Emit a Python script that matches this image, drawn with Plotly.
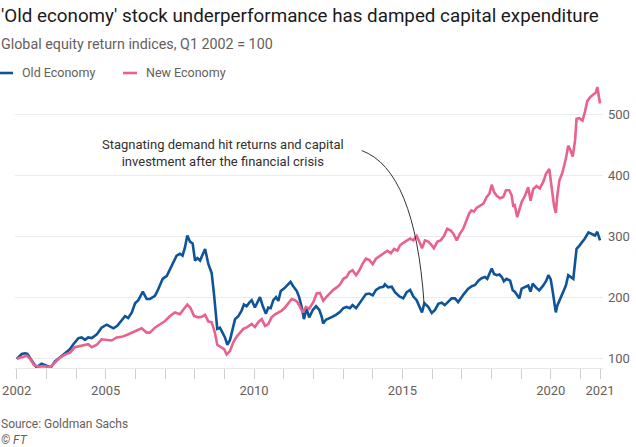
import plotly.graph_objects as go

# ---- data ----
old_years = [2002.00, 2002.17, 2002.28, 2002.36, 2002.51, 2002.67, 2002.84, 2002.99, 2003.15, 2003.29,
             2003.46, 2003.63, 2003.80, 2003.91, 2004.08, 2004.19, 2004.30, 2004.41, 2004.53, 2004.70,
             2004.86, 2005.03, 2005.14, 2005.26, 2005.39, 2005.54, 2005.65, 2005.76, 2005.88, 2005.99,
             2006.10, 2006.25, 2006.38, 2006.49, 2006.66, 2006.77, 2006.92, 2007.06, 2007.28, 2007.39,
             2007.50, 2007.59, 2007.67, 2007.75, 2007.84, 2007.93, 2008.01, 2008.09, 2008.18, 2008.27,
             2008.35, 2008.46, 2008.57, 2008.65, 2008.72, 2008.76, 2008.85, 2008.94, 2009.02, 2009.10,
             2009.19, 2009.28, 2009.36, 2009.47, 2009.58, 2009.66, 2009.75, 2009.84, 2009.92, 2010.03,
             2010.11, 2010.20, 2010.29, 2010.40, 2010.48, 2010.56, 2010.65, 2010.74, 2010.82, 2010.90,
             2011.01, 2011.15, 2011.23, 2011.32, 2011.44, 2011.52, 2011.61, 2011.68, 2011.77, 2011.86,
             2011.98, 2012.09, 2012.20, 2012.28, 2012.33, 2012.42, 2012.54, 2012.65, 2012.76, 2012.90,
             2013.01, 2013.12, 2013.23, 2013.32, 2013.44, 2013.55, 2013.66, 2013.77, 2013.88, 2014.00,
             2014.11, 2014.24, 2014.36, 2014.41, 2014.52, 2014.64, 2014.75, 2014.90, 2015.03, 2015.14,
             2015.26, 2015.37, 2015.48, 2015.57, 2015.66, 2015.74, 2015.87, 2015.99, 2016.10, 2016.21,
             2016.32, 2016.43, 2016.55, 2016.66, 2016.77, 2016.88, 2017.07, 2017.22, 2017.34, 2017.45,
             2017.56, 2017.67, 2017.78, 2017.86, 2017.93, 2018.01, 2018.09, 2018.18, 2018.27, 2018.35,
             2018.42, 2018.51, 2018.63, 2018.72, 2018.79, 2018.87, 2018.94, 2019.02, 2019.13, 2019.24,
             2019.32, 2019.39, 2019.50, 2019.61, 2019.73, 2019.84, 2019.92, 2020.00, 2020.07, 2020.14,
             2020.17, 2020.22, 2020.31, 2020.42, 2020.51, 2020.59, 2020.66, 2020.76, 2020.82, 2020.87,
             2020.96, 2021.03, 2021.15, 2021.27, 2021.38, 2021.49, 2021.57, 2021.66]
old_values = [100, 108, 109, 108, 97, 86, 92, 89, 86, 96,
              102, 109, 116, 124, 134, 135, 131, 135, 134, 140,
              151, 156, 153, 150, 154, 163, 170, 167, 176, 191,
              196, 210, 198, 198, 203, 214, 231, 236, 258, 269,
              272, 269, 282, 302, 292, 289, 261, 265, 261, 272,
              280, 255, 241, 206, 168, 149, 151, 143, 135, 123,
              131, 149, 165, 170, 179, 189, 186, 192, 196, 184,
              192, 201, 187, 174, 184, 183, 196, 201, 195, 211,
              215, 222, 226, 219, 211, 201, 184, 165, 182, 168,
              180, 186, 180, 169, 158, 164, 166, 169, 172, 177,
              183, 185, 183, 188, 183, 191, 199, 206, 207, 204,
              213, 217, 218, 222, 217, 218, 209, 202, 199, 209,
              213, 202, 196, 185, 176, 191, 185, 175, 180, 190,
              192, 188, 193, 199, 199, 193, 206, 215, 219, 221,
              228, 232, 234, 231, 239, 248, 239, 237, 238, 234,
              227, 231, 228, 212, 210, 204, 199, 215, 217, 220,
              210, 223, 217, 212, 219, 227, 237, 230, 209, 182,
              176, 187, 198, 209, 220, 237, 234, 231, 258, 280,
              285, 289, 297, 307, 305, 302, 308, 294]

new_years = [2002.00, 2002.17, 2002.34, 2002.45, 2002.58, 2002.73, 2002.90, 2003.12, 2003.29, 2003.46,
             2003.63, 2003.80, 2003.96, 2004.13, 2004.30, 2004.41, 2004.53, 2004.70, 2004.86, 2005.03,
             2005.20, 2005.37, 2005.54, 2005.71, 2005.88, 2006.04, 2006.21, 2006.38, 2006.49, 2006.66,
             2006.83, 2007.00, 2007.17, 2007.33, 2007.50, 2007.64, 2007.75, 2007.86, 2007.98, 2008.12,
             2008.24, 2008.35, 2008.46, 2008.57, 2008.68, 2008.76, 2008.88, 2008.99, 2009.08, 2009.19,
             2009.30, 2009.41, 2009.53, 2009.64, 2009.77, 2009.92, 2010.03, 2010.14, 2010.26, 2010.37,
             2010.48, 2010.59, 2010.71, 2010.82, 2010.93, 2011.04, 2011.15, 2011.27, 2011.38, 2011.46,
             2011.55, 2011.64, 2011.75, 2011.86, 2012.00, 2012.11, 2012.22, 2012.33, 2012.45, 2012.56,
             2012.67, 2012.79, 2012.90, 2013.01, 2013.12, 2013.21, 2013.32, 2013.44, 2013.55, 2013.66,
             2013.77, 2013.88, 2014.00, 2014.11, 2014.24, 2014.38, 2014.49, 2014.61, 2014.72, 2014.83,
             2014.92, 2015.03, 2015.14, 2015.26, 2015.37, 2015.48, 2015.57, 2015.66, 2015.76, 2015.87,
             2015.99, 2016.06, 2016.18, 2016.29, 2016.40, 2016.51, 2016.63, 2016.72, 2016.83, 2016.94,
             2017.05, 2017.17, 2017.25, 2017.33, 2017.41, 2017.50, 2017.61, 2017.73, 2017.84, 2017.93,
             2018.01, 2018.09, 2018.18, 2018.29, 2018.40, 2018.49, 2018.60, 2018.68, 2018.74, 2018.79,
             2018.87, 2018.94, 2019.02, 2019.13, 2019.24, 2019.32, 2019.41, 2019.52, 2019.63, 2019.75,
             2019.84, 2019.95, 2020.03, 2020.11, 2020.17, 2020.22, 2020.29, 2020.40, 2020.51, 2020.59,
             2020.66, 2020.74, 2020.82, 2020.87, 2020.96, 2021.07, 2021.15, 2021.23, 2021.34, 2021.43,
             2021.52, 2021.57, 2021.66]
new_values = [100, 103, 105, 100, 90, 87, 88, 86, 94, 102,
              107, 110, 119, 121, 123, 124, 119, 123, 132, 131,
              130, 135, 136, 139, 143, 147, 150, 143, 143, 151,
              157, 162, 170, 176, 173, 181, 189, 183, 170, 168,
              169, 172, 161, 160, 143, 123, 119, 116, 107, 113,
              127, 136, 143, 149, 152, 157, 152, 160, 165, 154,
              157, 168, 173, 176, 179, 184, 190, 198, 196, 193,
              185, 176, 185, 182, 193, 207, 208, 195, 202, 208,
              213, 217, 222, 231, 234, 242, 245, 237, 245, 256,
              264, 262, 255, 264, 268, 273, 277, 273, 280, 277,
              286, 290, 294, 297, 294, 301, 292, 281, 294, 292,
              286, 281, 292, 294, 301, 313, 310, 305, 294, 305,
              313, 327, 338, 343, 341, 347, 350, 354, 365, 370,
              385, 373, 367, 363, 365, 376, 376, 368, 349, 351,
              332, 343, 357, 367, 381, 359, 378, 383, 379, 390,
              403, 411, 383, 351, 339, 367, 392, 406, 428, 449,
              442, 431, 458, 493, 494, 490, 504, 522, 529, 533,
              536, 545, 518]

series_names = ["Old Economy", "New Economy"]
y_tick_values = [100, 200, 300, 400, 500]
x_tick_years = list(range(2002, 2022))
x_labelled_years = [2002, 2005, 2010, 2015, 2020]
end_year = 2021.66
end_label = "2021"

title_text = "'Old economy' stock underperformance has damped capital expenditure"
subtitle_text = "Global equity return indices, Q1 2002 = 100"
note_text = "Stagnating demand hit returns and capital<br>investment after the financial crisis"
source_text = "Source: Goldman Sachs"
credit_text = "© FT"

# annotation placement (data coordinates)
note_pos = (2008.95, 437)
curve_start = (2013.63, 441)
curve_ctrl = (2015.42, 409)
curve_end = (2015.73, 191)

BLUE = "#0f5499"
PINK = "#e9628e"
GREY_TEXT = "#66605c"
FONT = "Roboto, 'Open Sans', sans-serif"

fig = go.Figure()
fig.add_trace(go.Scatter(x=old_years, y=old_values, mode="lines", name=series_names[0],
                         line=dict(color=BLUE, width=2.6), showlegend=False))
fig.add_trace(go.Scatter(x=new_years, y=new_values, mode="lines", name=series_names[1],
                         line=dict(color=PINK, width=2.6), showlegend=False))

tickvals = x_tick_years + [end_year]
ticktext = [str(y) if y in x_labelled_years else "" for y in x_tick_years] + [end_label]

W, H = 636, 447
L, R, T, B = 15, 33, 84, 79
plot_w = W - L - R
plot_h = H - T - B


def px_x(px):
    return (px - L) / plot_w


def px_y(py):
    return (H - B - py) / plot_h


fig.update_layout(
    width=W, height=H,
    margin=dict(l=L, r=R, t=T, b=B, autoexpand=False),
    paper_bgcolor="white", plot_bgcolor="white",
    font=dict(family=FONT, color=GREY_TEXT, size=13),
    xaxis=dict(range=[2001.943, 2021.761], tickvals=tickvals, ticktext=ticktext,
               ticks="outside", ticklen=10, tickcolor="#cfcfcf", tickwidth=1,
               showline=True, linecolor="#e6e6e6", linewidth=1, automargin=False,
               showgrid=False, zeroline=False, tickfont=dict(size=13, color=GREY_TEXT)),
    yaxis=dict(range=[85, 550], side="right", tickvals=y_tick_values, automargin=False,
               showgrid=True, gridcolor="#ebebeb", gridwidth=1, zeroline=False,
               ticks="", tickfont=dict(size=13, color=GREY_TEXT), ticklabelstandoff=4),
)

annotations = [
    dict(text=title_text, xref="paper", yref="paper", x=px_x(-1), y=px_y(16),
         xanchor="left", yanchor="middle", showarrow=False,
         font=dict(size=18.8, color="#1a1a1a", family=FONT)),
    dict(text=subtitle_text, xref="paper", yref="paper", x=px_x(-1), y=px_y(44),
         xanchor="left", yanchor="middle", showarrow=False,
         font=dict(size=14.3, color=GREY_TEXT, family=FONT)),
    dict(text=series_names[0], xref="paper", yref="paper", x=px_x(20), y=px_y(73),
         xanchor="left", yanchor="middle", showarrow=False,
         font=dict(size=12.5, color=GREY_TEXT, family=FONT)),
    dict(text=series_names[1], xref="paper", yref="paper", x=px_x(144), y=px_y(73),
         xanchor="left", yanchor="middle", showarrow=False,
         font=dict(size=12.5, color=GREY_TEXT, family=FONT)),
    dict(text=note_text, xref="x", yref="y", x=note_pos[0], y=note_pos[1],
         xanchor="center", yanchor="middle", showarrow=False, align="center",
         font=dict(size=13, color="#33302e", family=FONT)),
    dict(text=source_text, xref="paper", yref="paper", x=px_x(-1), y=px_y(424),
         xanchor="left", yanchor="middle", showarrow=False,
         font=dict(size=12, color=GREY_TEXT, family=FONT)),
    dict(text="<i>" + credit_text + "</i>", xref="paper", yref="paper", x=px_x(-1), y=px_y(440),
         xanchor="left", yanchor="middle", showarrow=False,
         font=dict(size=12, color=GREY_TEXT, family=FONT)),
]
fig.update_layout(annotations=annotations)

shapes = [
    dict(type="line", xref="paper", yref="paper", x0=px_x(0), x1=px_x(13), y0=px_y(73), y1=px_y(73),
         line=dict(color=BLUE, width=2.6)),
    dict(type="line", xref="paper", yref="paper", x0=px_x(123), x1=px_x(137), y0=px_y(73), y1=px_y(73),
         line=dict(color=PINK, width=2.6)),
    dict(type="path", xref="x", yref="y",
         path=f"M {curve_start[0]},{curve_start[1]} Q {curve_ctrl[0]},{curve_ctrl[1]} {curve_end[0]},{curve_end[1]}",
         line=dict(color="#333333", width=1)),
]
fig.update_layout(shapes=shapes)

fig.write_html("out.html")
